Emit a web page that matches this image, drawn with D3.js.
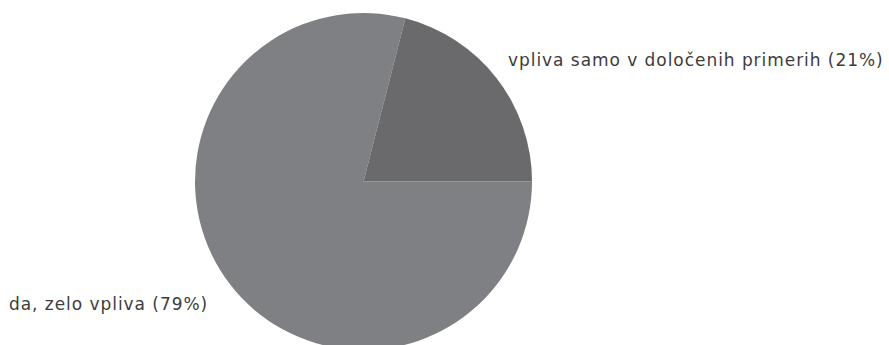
<!DOCTYPE html>
<html>
<head>
<meta charset="utf-8">
<script src="https://cdn.jsdelivr.net/npm/d3@7"></script>
<style>
  html, body { margin: 0; padding: 0; background: #fff; }
  svg { display: block; }
</style>
</head>
<body>
<svg id="chart" width="889" height="345"></svg>
<script>
// Answers and their shares (percent)
const categories = ["da, zelo vpliva", "vpliva samo v določenih primerih"];
const shares = [79, 21];
const sliceColors = ["#7f8084", "#6a6a6c"];

const width = 889, height = 345;
const cx = 363.5, cy = 181.5, radius = 168.5;

const svg = d3.select("#chart");
const g = svg.append("g").attr("transform", `translate(${cx},${cy})`);

// Pie starts at 3 o'clock and runs clockwise
const pie = d3.pie()
  .sort(null)
  .startAngle(Math.PI / 2)
  .endAngle(Math.PI / 2 + 2 * Math.PI);

const arcs = pie(shares);
const arc = d3.arc().innerRadius(0).outerRadius(radius);

g.selectAll("path.slice")
  .data(arcs)
  .join("path")
  .attr("class", "slice")
  .attr("d", arc)
  .attr("fill", (d, i) => sliceColors[i]);

// Labels
const labelPos = [
  { x: 9, y: 310, anchor: "start" },
  { x: 508, y: 66, anchor: "start" }
];

svg.selectAll("text.label")
  .data(arcs)
  .join("text")
  .attr("class", "label")
  .attr("x", (d, i) => labelPos[i].x)
  .attr("y", (d, i) => labelPos[i].y)
  .attr("text-anchor", (d, i) => labelPos[i].anchor)
  .attr("font-family", "DejaVu Sans, Verdana, sans-serif")
  .attr("font-size", 17)
  .attr("letter-spacing", 0.95)
  .attr("fill", "#3c3c3c")
  .text((d, i) => `${categories[i]} (${shares[i]}%)`);
</script>
</body>
</html>
